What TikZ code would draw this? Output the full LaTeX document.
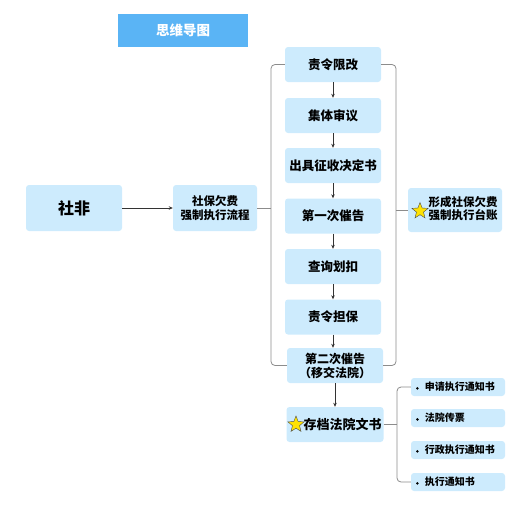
\documentclass[tikz,border=0pt]{standalone}
\usepackage{fontspec}
\setmainfont{Noto Sans CJK SC}
\usetikzlibrary{shapes.geometric,arrows.meta}
\definecolor{boite}{HTML}{CDEBFD}
\definecolor{titre}{HTML}{5AB4F5}
\definecolor{trait}{HTML}{8C8C8C}
\begin{document}
\begin{tikzpicture}[x=1pt,y=-1pt,
    boxnode/.style={fill=boite, rounded corners=3pt, align=center, inner sep=0pt, font=\bfseries\fontsize{12.5}{15}\selectfont},
    leafnode/.style={fill=boite, rounded corners=3pt, minimum width=94pt, minimum height=18pt, inner sep=0pt, font=\bfseries\fontsize{10}{11}\selectfont},
    fleche/.style={-{Stealth[length=4pt,width=3.5pt]}, black!80, line width=0.6pt},
    accolade/.style={trait, line width=0.8pt, rounded corners=4pt},
    etoile/.style={star, star points=5, star point ratio=2.3, fill=yellow!85!orange, draw=black!70, line width=0.4pt, inner sep=0pt, minimum size=17pt}]
    % Cadre
    \useasboundingbox (0,0) rectangle (514,507);
    % Titre
    \node[fill=titre, text=white, minimum width=130pt, minimum height=33pt, inner sep=0pt, font=\bfseries\fontsize{13.5}{15}\selectfont] (titre) at (183,30.5) {思维导图};
    % Racine et flux
    \node[boxnode, minimum width=96pt, minimum height=46pt, font=\bfseries\fontsize{16}{18}\selectfont] (shefei) at (74,208) {社非};
    \node[boxnode, minimum width=84pt, minimum height=46pt, font=\bfseries\fontsize{11.5}{14}\selectfont] (flux) at (215,208) {社保欠费\\强制执行流程};
    \draw[fleche] (shefei) -- (flux);
    % Etapes
    \foreach \nom/\y/\texte in {e1/64.5/责令限改, e2/115.5/集体审议, e3/165.5/出具征收决定书, e4/216/第一次催告, e5/266.5/查询划扣, e6/317/责令担保}
        \node[boxnode, minimum width=96pt, minimum height=35pt] (\nom) at (333,\y) {\texte};
    \node[boxnode, minimum width=96pt, minimum height=35pt, font=\bfseries\fontsize{12}{14}\selectfont] (e7) at (335,365.5) {第二次催告\\（移交法院）};
    \node[boxnode, minimum width=97pt, minimum height=35pt, font=\bfseries\fontsize{13}{15}\selectfont] (archive) at (335,424.5) {\hspace*{15pt}存档法院文书};
    \node[etoile] (star1) at (296,424.5) {};
    \foreach \a/\b in {e1/e2, e2/e3, e3/e4, e4/e5, e5/e6}
        \draw[fleche] (\a) -- (\b);
    \draw[fleche] (e6.south) -- (e6.south |- e7.north);
    \draw[fleche] (e7.south -| archive.north) -- (archive.north);
    % Accolade gauche
    \coordinate (ag) at (271,208);
    \draw[accolade] (e1.west) -| (ag) |- (e7.west);
    \draw[accolade] (flux.east) -- (ag);
    % Accolade droite et resultat
    \node[boxnode, minimum width=94pt, minimum height=44pt, font=\bfseries\fontsize{11.5}{14}\selectfont] (tai) at (455,210) {\hspace*{16pt}\begin{tabular}{@{}c@{}}形成社保欠费\\[-2pt]强制执行台账\end{tabular}};
    \node[etoile] (star2) at (420,211) {};
    \coordinate (ad) at (396,210);
    \draw[accolade] (e1.east) -| (ad) |- (e7.east);
    \draw[accolade] (ad) -- (tai.west);
    % Documents
    \foreach \nom/\y/\texte in {d1/387/申请执行通知书, d2/418/法院传票, d3/450/行政执行通知书, d4/482/执行通知书}
        \node[leafnode, text width=84pt] (\nom) at (458,\y) {\raisebox{1pt}{\tikz\fill (0,0) circle (1.4pt);}\hspace{6pt}\texte};
    \coordinate (ab) at (397,424.5);
    \draw[accolade] (archive.east) -- (ab);
    \draw[accolade] (d1.west) -| (ab) |- (d4.west);
\end{tikzpicture}
\end{document}
